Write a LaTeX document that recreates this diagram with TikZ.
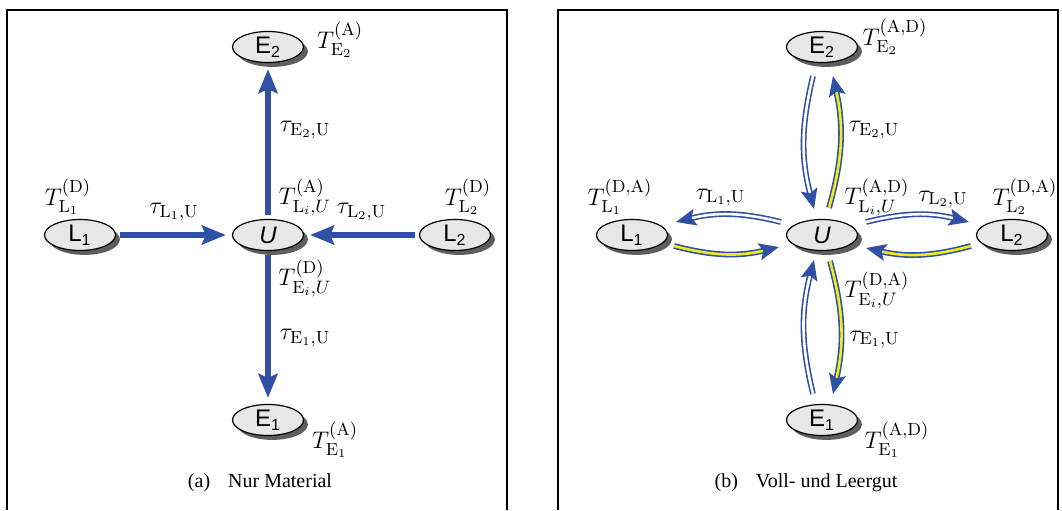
\documentclass[tikz,border=0pt]{standalone}
\usepackage{fontspec}
\newfontfamily\nodefont{Liberation Sans}
\newfontfamily\capfont{Liberation Serif}
\usepackage{xcolor}
\definecolor{flowblue}{HTML}{2F50A5}
\definecolor{nodegray}{HTML}{E6E7E6}
\definecolor{shadowgray}{HTML}{5E5E5E}
\definecolor{fullyellow}{HTML}{F4EC1A}
\usepackage{tikz}
\usetikzlibrary{arrows.meta, shapes.geometric, positioning, shadows}

\tikzset{
  station/.style={ellipse, draw=black, line width=0.6pt, fill=nodegray,
        minimum width=35.5pt, minimum height=15.5pt, inner sep=0pt, on grid,
        font=\nodefont\fontsize{12}{14}\selectfont,
        drop shadow={shadow xshift=2.2pt, shadow yshift=-2.2pt,
                     fill=shadowgray, opacity=1}},
  tlabel/.style={font=\fontsize{12.5}{15}\selectfont},
  flow/.style={draw=flowblue, line width=3.3pt,
        -{Stealth[length=12pt, width=9.5pt, inset=2pt]},
        shorten <=2pt, shorten >=3pt},
  emptyflow/.style={draw=flowblue, double=white, line width=0.8pt,
        double distance=1.3pt,
        -{Stealth[length=10pt, width=8.5pt, inset=2pt]}},
  fullflow/.style={emptyflow, double=fullyellow},
  caption/.style={font=\capfont\fontsize{10}{12}\selectfont}
}

\begin{document}
\begin{tikzpicture}[x=0.5pt, y=-0.5pt]

  \useasboundingbox (0,0) rectangle (1062,510);

  % (a) Nur Material
  \draw[line width=1pt] (7,510) -- (7,10) -- (507,10) -- (507,510);

  \node[station] (uA) at (268,235) {\textit{U}};
  \node[station, above=94pt of uA] (e2A) {E\textsubscript{2}};
  \node[station, below=92.5pt of uA] (e1A) {E\textsubscript{1}};
  \node[station, left=94pt of uA] (l1A) {L\textsubscript{1}};
  \node[station, right=93.5pt of uA] (l2A) {L\textsubscript{2}};

  \draw[flow] (uA) -- node[right=1pt, pos=0.57, tlabel] {$\tau_{\mathrm{E}_2,\mathrm{U}}$} (e2A);
  \draw[flow] (uA) -- node[right=1pt, pos=0.57, tlabel] {$\tau_{\mathrm{E}_1,\mathrm{U}}$} (e1A);
  \draw[flow] (l1A) -- node[above=2pt, tlabel] {$\tau_{\mathrm{L}_1,\mathrm{U}}$} (uA);
  \draw[flow] (l2A) -- node[above=2pt, tlabel] {$\tau_{\mathrm{L}_2,\mathrm{U}}$} (uA);

  \node[tlabel] (te2A) at (340,40) {$T^{(\mathrm{A})}_{\mathrm{E}_2}$};
  \node[tlabel] (tl1A) at (68,197) {$T^{(\mathrm{D})}_{\mathrm{L}_1}$};
  \node[tlabel] (tl2A) at (468,197) {$T^{(\mathrm{D})}_{\mathrm{L}_2}$};
  \node[tlabel] (tliA) at (305,197) {$T^{(\mathrm{A})}_{\mathrm{L}_i,U}$};
  \node[tlabel] (teiA) at (305,278) {$T^{(\mathrm{D})}_{\mathrm{E}_i,U}$};
  \node[tlabel] (te1A) at (335,440) {$T^{(\mathrm{A})}_{\mathrm{E}_1}$};

  \node[caption] (capA) at (260,483) {(a)\hspace{0.9em}Nur Material};

  % (b) Voll- und Leergut
  \draw[line width=1pt] (558,510) -- (558,10) -- (1058,10) -- (1058,510);

  \node[station] (uB) at (822,235) {\textit{U}};
  \node[station, above=94pt of uB] (e2B) {E\textsubscript{2}};
  \node[station, below=92.5pt of uB] (e1B) {E\textsubscript{1}};
  \node[station, left=95pt of uB] (l1B) {L\textsubscript{1}};
  \node[station, right=95pt of uB] (l2B) {L\textsubscript{2}};

  % E2 <-> U
  \draw[emptyflow] ([shift={(-9,13)}]e2B.south) to[bend right=14]
    ([shift={(-8,-10)}]uB.north);
  \draw[fullflow] ([shift={(7,-11)}]uB.north) to[bend right=14]
    node[right=0.5pt, pos=0.6, tlabel] {$\tau_{\mathrm{E}_2,\mathrm{U}}$}
    ([shift={(11,13)}]e2B.south);
  % L1 <-> U
  \draw[emptyflow] ([shift={(-5,-13)}]uB.west) to[bend right=14]
    node[above=0.5pt, pos=0.58, tlabel] {$\tau_{\mathrm{L}_1,\mathrm{U}}$}
    ([shift={(8,-13)}]l1B.east);
  \draw[fullflow] ([shift={(6,11)}]l1B.east) to[bend right=14]
    ([shift={(-7,12)}]uB.west);
  % L2 <-> U
  \draw[emptyflow] ([shift={(8,-13)}]uB.east) to[bend left=14]
    node[above=0.5pt, pos=0.76, tlabel] {$\tau_{\mathrm{L}_2,\mathrm{U}}$}
    ([shift={(-7,-13)}]l2B.west);
  \draw[fullflow] ([shift={(-5,11)}]l2B.west) to[bend left=14]
    ([shift={(8,13)}]uB.east);
  % E1 <-> U
  \draw[emptyflow] ([shift={(-9,-10)}]e1B.north) to[bend left=14]
    ([shift={(-8,9)}]uB.south);
  \draw[fullflow] ([shift={(8,10)}]uB.south) to[bend left=14]
    node[right=0.5pt, pos=0.6, tlabel] {$\tau_{\mathrm{E}_1,\mathrm{U}}$}
    ([shift={(11,-10)}]e1B.north);

  \node[tlabel] (te2B) at (895,37) {$T^{(\mathrm{A,D})}_{\mathrm{E}_2}$};
  \node[tlabel] (tl1B) at (620,197) {$T^{(\mathrm{D,A})}_{\mathrm{L}_1}$};
  \node[tlabel] (tl2B) at (1025,197) {$T^{(\mathrm{D,A})}_{\mathrm{L}_2}$};
  \node[tlabel] (tliB) at (877,197) {$T^{(\mathrm{A,D})}_{\mathrm{L}_i,U}$};
  \node[tlabel] (teiB) at (877,290) {$T^{(\mathrm{D,A})}_{\mathrm{E}_i,U}$};
  \node[tlabel] (te1B) at (897,440) {$T^{(\mathrm{A,D})}_{\mathrm{E}_1}$};

  \node[caption] (capB) at (806,483) {(b)\hspace{0.9em}Voll- und Leergut};

\end{tikzpicture}
\end{document}
